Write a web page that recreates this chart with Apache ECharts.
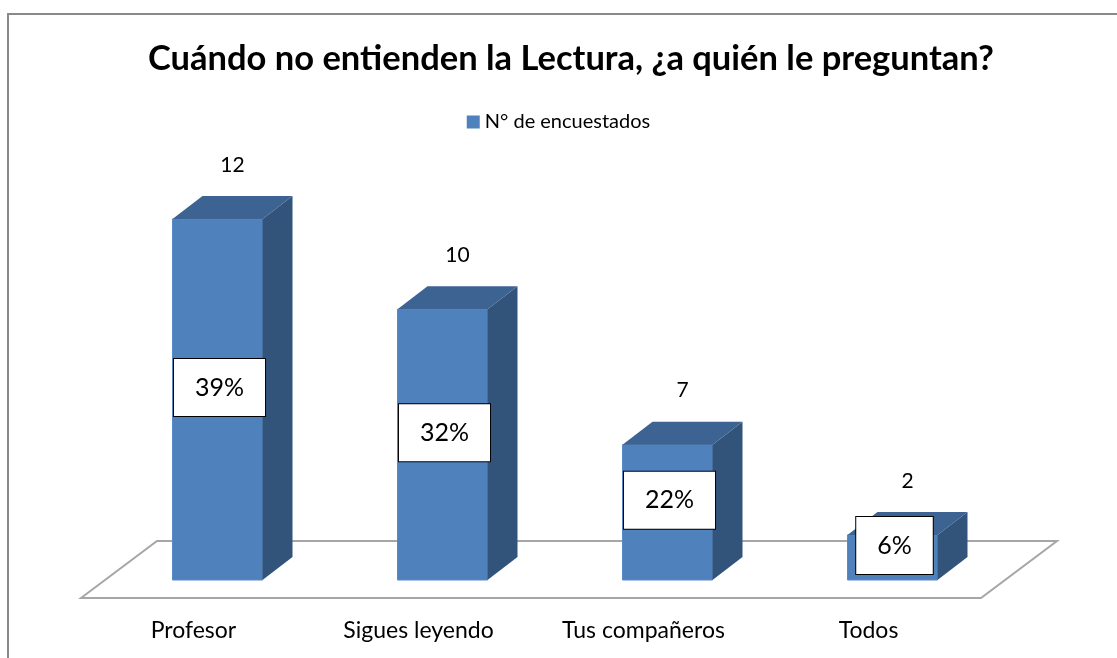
<!DOCTYPE html>
<html>
<head>
<meta charset="utf-8">
<script src="https://cdn.jsdelivr.net/npm/echarts@6/dist/echarts.min.js"></script>
<style>
  html, body { margin: 0; padding: 0; background: #fff; }
  #main { width: 1117px; height: 658px; }
</style>
</head>
<body>
<div id="main"></div>
<script>
var categories = ['Profesor', 'Sigues leyendo', 'Tus compañeros', 'Todos'];
var values = [12, 10, 7, 2];
var percents = ['39%', '32%', '22%', '6%'];
var seriesName = 'N° de encuestados';

var yMin = 4;
var yMax = 12;
// depth of the 3d bars (px)
var depthX = 30;
var depthY = -23;

var chartDom = document.getElementById('main');
var myChart = echarts.init(chartDom);
var option;

function renderBar(params, api) {
    var i = api.value(0);
    var v = api.value(1);
    // Excel keeps bars under the floor value visible as a small block
    var shown = Math.max(v, yMin + 1);
    var top = api.coord([i, shown]);
    var base = api.coord([i, yMin]);
    var band = api.size([1, 0])[0];
    var w = band * 0.4;
    var x0 = top[0] - w / 2;
    var x1 = top[0] + w / 2;
    var yt = top[1];
    var yb = base[1];
    return {
        type: 'group',
        children: [
            {
                type: 'rect',
                shape: { x: x0, y: yt, width: w, height: yb - yt },
                style: { fill: '#4F81BD', stroke: '#5A8AC4', lineWidth: 1 }
            },
            {
                type: 'polygon',
                shape: { points: [[x1, yt], [x1 + depthX, yt + depthY], [x1 + depthX, yb + depthY], [x1, yb]] },
                style: { fill: '#32547B' }
            },
            {
                type: 'polygon',
                shape: { points: [[x0, yt], [x0 + depthX, yt + depthY], [x1 + depthX, yt + depthY], [x1, yt]] },
                style: { fill: '#3C6391' }
            },
            {
                type: 'text',
                style: {
                    text: String(v),
                    x: top[0] + depthX / 2,
                    y: yt - 54,
                    align: 'center',
                    verticalAlign: 'middle',
                    font: '21px Lato',
                    fill: '#000'
                }
            },
            {
                type: 'text',
                z2: 10,
                style: {
                    text: percents[i],
                    x: top[0] + 2,
                    y: (yt + yb) / 2 - 12,
                    align: 'center',
                    verticalAlign: 'middle',
                    font: '25px Lato',
                    fill: '#000',
                    backgroundColor: '#fff',
                    borderColor: '#000',
                    borderWidth: 1,
                    padding: [16, 21, 16, 21]
                }
            }
        ]
    };
}

function renderFloor(params, api) {
    var cs = params.coordSys;
    var yb = api.coord([0, yMin])[1];
    var l = cs.x;
    var r = cs.x + cs.width;
    return {
        type: 'polygon',
        shape: {
            points: [
                [l - 24, yb + 18],
                [l + 52, yb - 39],
                [r + 52, yb - 39],
                [r - 24, yb + 18]
            ]
        },
        style: { fill: '#fff', stroke: '#A6A6A6', lineWidth: 2 }
    };
}

option = {
    backgroundColor: '#fff',
    animation: false,
    title: {
        text: 'Cuándo no entienden la Lectura, ¿a quién le preguntan?',
        left: 143,
        top: 36,
        textStyle: {
            fontFamily: 'Lato',
            fontSize: 34.5,
            fontWeight: 'bold',
            color: '#000'
        }
    },
    legend: {
        data: [{ name: seriesName, icon: 'rect' }],
        top: 107,
        left: 'center',
        itemWidth: 13,
        itemHeight: 13,
        itemGap: 5,
        textStyle: {
            fontFamily: 'Lato',
            fontSize: 20,
            color: '#000'
        }
    },
    graphic: [
        {
            type: 'rect',
            shape: { x: 8, y: 14, width: 1200, height: 800 },
            style: { fill: null, stroke: '#898989', lineWidth: 2 }
        }
    ],
    grid: {
        left: 105,
        right: 112,
        top: 219,
        bottom: 78
    },
    xAxis: {
        type: 'category',
        data: categories,
        axisLine: { show: false },
        axisTick: { show: false },
        axisLabel: {
            margin: 39,
            fontFamily: 'Lato',
            fontSize: 23,
            color: '#000',
            padding: [0, 48, 0, 0]
        }
    },
    yAxis: {
        type: 'value',
        min: yMin,
        max: yMax,
        show: false,
        splitLine: { show: false }
    },
    series: [
        {
            name: 'piso',
            type: 'custom',
            z: 1,
            renderItem: renderFloor,
            data: [[0, yMin]],
            silent: true
        },
        {
            name: seriesName,
            type: 'custom',
            z: 2,
            itemStyle: { color: '#4F81BD' },
            renderItem: renderBar,
            encode: { x: 0, y: 1 },
            data: values.map(function (v, i) { return [i, v]; })
        }
    ]
};

option && myChart.setOption(option);
</script>
</body>
</html>
